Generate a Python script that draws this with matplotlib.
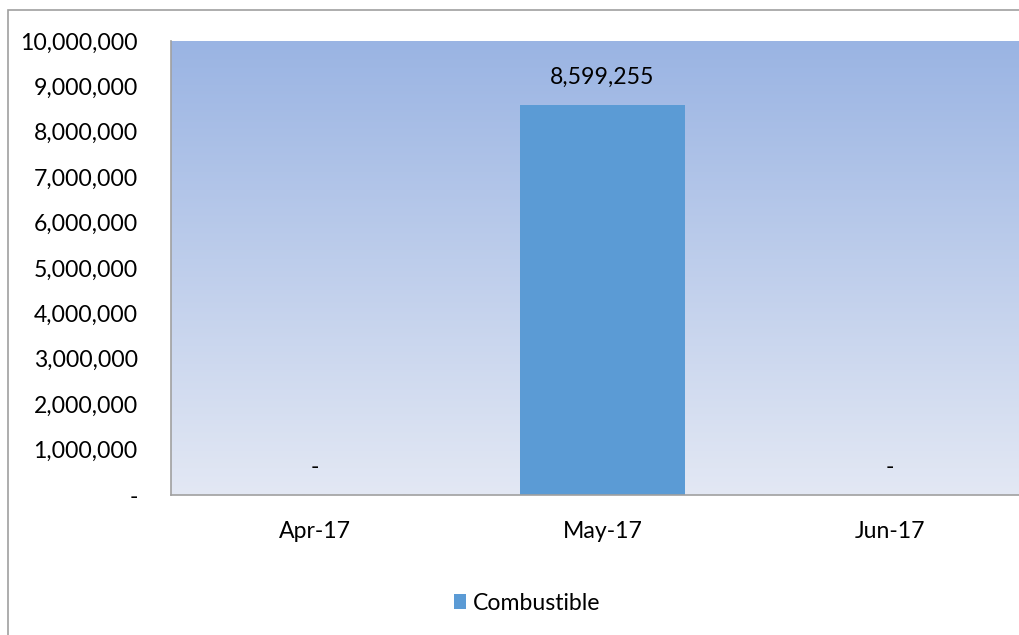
import matplotlib
matplotlib.use("Agg")
import matplotlib.pyplot as plt
import numpy as np
from matplotlib.colors import LinearSegmentedColormap
from matplotlib.patches import Rectangle
from matplotlib.ticker import FuncFormatter

categories = ["Apr-17", "May-17", "Jun-17"]
values = [0, 8599255, 0]
series_name = "Combustible"
yticks = list(range(0, 10000001, 1000000))

plt.rcParams['font.family'] = ['Lato', 'DejaVu Sans']
FS = 16.6

fig = plt.figure(figsize=(10.19, 6.35), dpi=100)
fig.patch.set_facecolor('white')

# outer chart border
fig.patches.append(Rectangle((8/1019, -0.05), 1.1, 1 - 10/635 + 0.05, transform=fig.transFigure,
                             fill=False, edgecolor='#A0A0A0', linewidth=1.2, zorder=0))

ax = fig.add_axes([171/1019, 140/635, 863/1019, 454/635])
ax.set_xlim(-0.5, 2.5)
ax.set_ylim(0, 10000000)

cmap = LinearSegmentedColormap.from_list('bg', ['#E3E8F4', '#9AB4E3'])
grad = np.linspace(0, 1, 256).reshape(-1, 1)
ax.imshow(grad, extent=[-0.5, 2.5, 0, 10000000], origin='lower', aspect='auto',
          cmap=cmap, zorder=0)

x = np.arange(len(categories))
bars = ax.bar(x, values, width=0.573, color='#5B9BD5', zorder=2, label=series_name)

for xi, v in zip(x, values):
    if v == 0:
        ax.text(xi, 600000, '-', ha='center', va='center', fontsize=FS, color='black')
    else:
        ax.text(xi, v + 600000, f"{v:,}", ha='center', va='center', fontsize=FS, color='black')

ax.set_xticks(x)
ax.set_xticklabels(categories, fontsize=FS)
ax.set_yticks(yticks)
ax.yaxis.set_major_formatter(FuncFormatter(lambda v, p: '-' if v == 0 else f"{int(v):,}"))
ax.tick_params(axis='y', length=0, pad=24, labelsize=FS)
ax.tick_params(axis='x', length=0, pad=19, labelsize=FS)

for s in ['top', 'right']:
    ax.spines[s].set_visible(False)
for s in ['left', 'bottom']:
    ax.spines[s].set_color('#A0A0A0')
    ax.spines[s].set_linewidth(1.2)

leg = fig.legend(handles=[bars], labels=[series_name], loc='center',
                 bbox_to_anchor=(527/1019, 1 - 603/635), frameon=False, fontsize=FS,
                 handlelength=0.5, handleheight=0.6, handletextpad=0.3)

fig.savefig('out.png', dpi=100)
